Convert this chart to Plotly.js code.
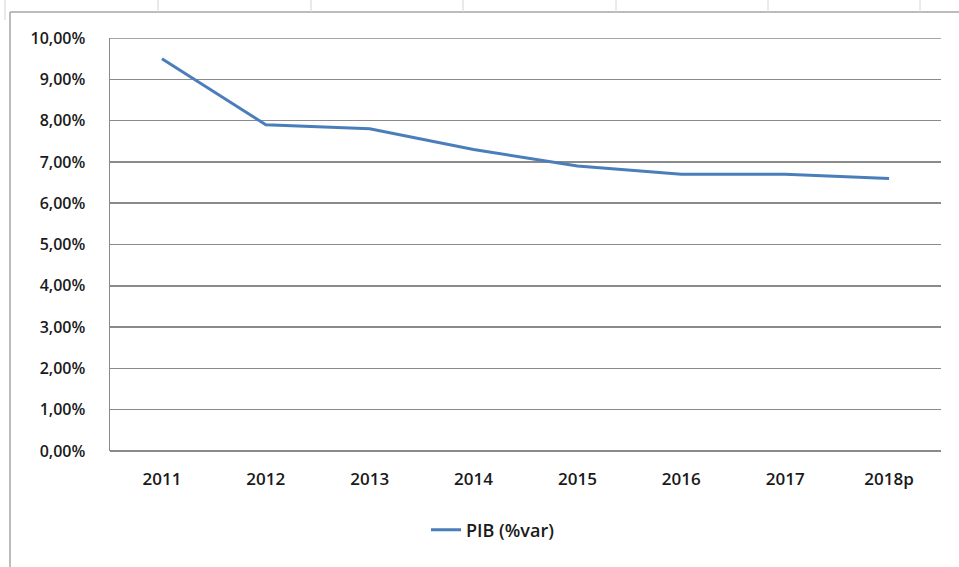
<!DOCTYPE html>
<html>
<head>
<meta charset="utf-8">
<script src="https://cdn.plot.ly/plotly-3.0.1.min.js"></script>
<style>
html,body{margin:0;padding:0;background:#fff;}
#chart{width:959px;height:567px;}
</style>
</head>
<body>
<div id="chart"></div>
<script>
const years = ["2011","2012","2013","2014","2015","2016","2017","2018p"];
const pib = [0.095, 0.079, 0.078, 0.073, 0.069, 0.067, 0.067, 0.066];
const seriesName = "PIB (%var)";

const L = 110, R = 941, T = 38, B = 451;
const px = x => (x - L) / (R - L);
const py = y => (B - y) / (B - T);
const grey = "#8a8a8a";
const cellGrey = "#d4d4d4";

const shapes = [];
// chart border (top and left)
shapes.push({type:"line", xref:"paper", yref:"paper", x0:px(10), x1:px(959), y0:py(12), y1:py(12), line:{color:"#a6a6a6", width:1.5}});
shapes.push({type:"line", xref:"paper", yref:"paper", x0:px(10), x1:px(10), y0:py(12), y1:py(567), line:{color:"#a6a6a6", width:1.5}});
// spreadsheet cell gridlines above the chart
[158, 311, 463, 616, 768, 920].forEach(x => {
  shapes.push({type:"line", xref:"paper", yref:"paper", x0:px(x), x1:px(x), y0:py(0), y1:py(12), line:{color:cellGrey, width:1}});
});
shapes.push({type:"line", xref:"paper", yref:"paper", x0:px(5), x1:px(5), y0:py(0), y1:py(20), line:{color:cellGrey, width:1}});
// top gridline (10%)
shapes.push({type:"line", xref:"paper", yref:"y", x0:0, x1:1, y0:0.1, y1:0.1, line:{color:grey, width:1.5}, layer:"below"});

const trace = {
  x: years, y: pib, type: "scatter", mode: "lines", name: seriesName,
  line: {color: "#4a7ebb", width: 3}
};

const tf = {family: "Open Sans, sans-serif", size: 17, color: "#1a1a1a", weight: 600};

const layout = {
  width: 959, height: 567,
  margin: {l: L, r: 959 - R, t: T, b: 567 - B},
  paper_bgcolor: "#fff", plot_bgcolor: "#fff",
  separators: ",.",
  font: {family: "Open Sans, sans-serif", size: 16, color: "#1a1a1a"},
  showlegend: true,
  legend: {orientation: "h", x: px(426), xanchor: "left", y: py(530), yanchor: "middle",
           font: {family: "Open Sans, sans-serif", size: 18, color: "#1a1a1a", weight: 600}, bgcolor: "rgba(0,0,0,0)"},
  xaxis: {type: "category", range: [-0.5, 7.5], showgrid: false, zeroline: false,
          showline: false, ticks: "", tickfont: tf, ticklabelstandoff: 16},
  yaxis: {range: [0, 0.1], dtick: 0.01, tickformat: ".2%", showgrid: true, gridcolor: grey, gridwidth: 1.5,
          zeroline: true, zerolinecolor: grey, zerolinewidth: 1.5,
          showline: true, linecolor: grey, linewidth: 1.5, ticks: "",
          tickfont: {family: "Open Sans, sans-serif", size: 16, color: "#1a1a1a", weight: 600}, ticklabelstandoff: 20},
  shapes: shapes
};

Plotly.newPlot("chart", [trace], layout, {displayModeBar: false, staticPlot: true});
</script>
</body>
</html>
